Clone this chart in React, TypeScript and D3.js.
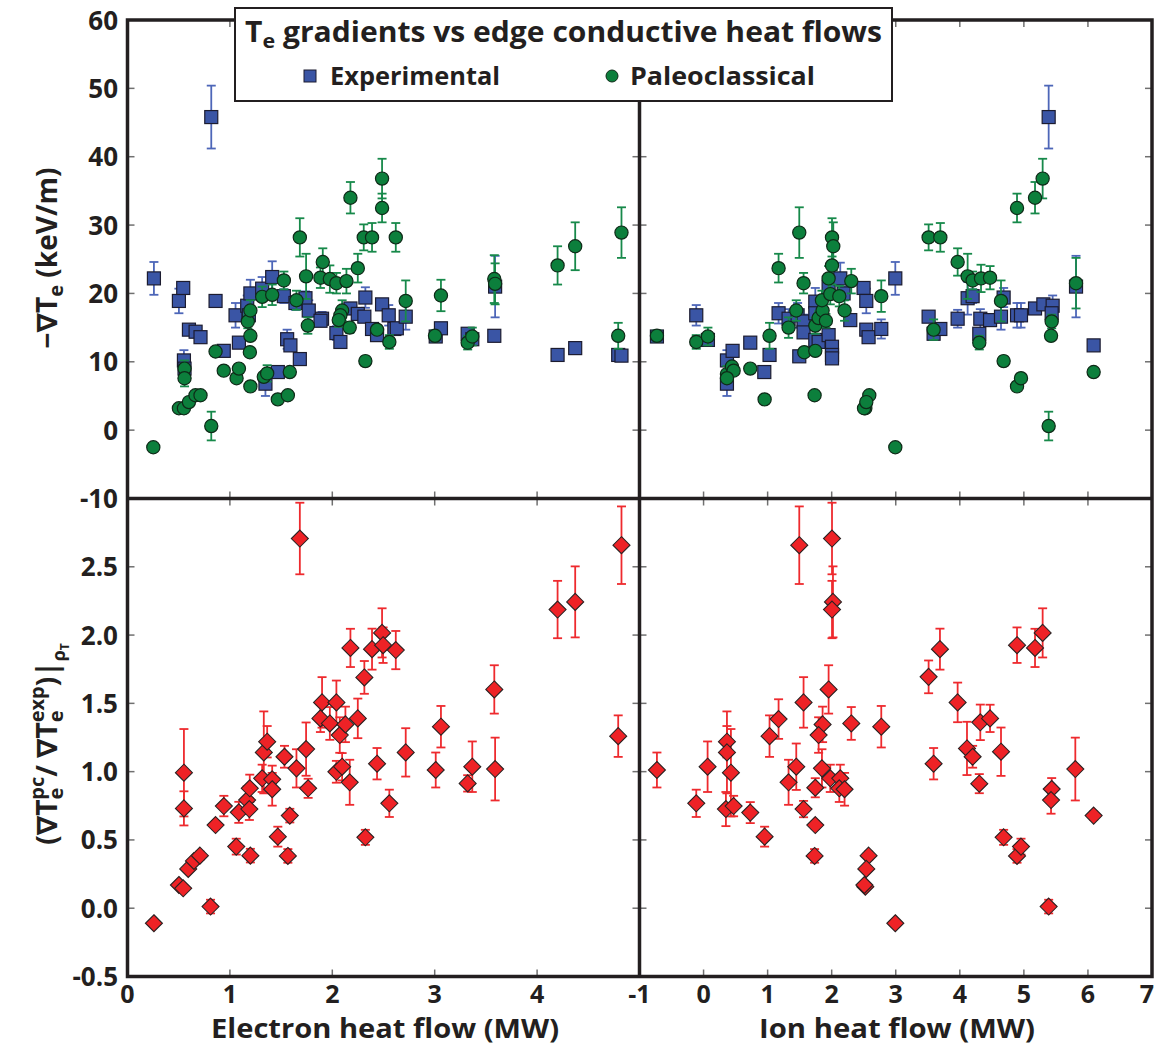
import React from 'react';
import * as d3 from 'd3';

type P = [number, number, number]; // [heat flow, value, error]

const xTicksElectron = [0, 1, 2, 3, 4];
const xTicksIon = [-1, 0, 1, 2, 3, 4, 5, 6, 7];
const yTicksGrad = [-10, 0, 10, 20, 30, 40, 50, 60];
const yTicksRatio = [-0.5, 0, 0.5, 1, 1.5, 2, 2.5];
const yTickRatioLabels = ['-0.5', '0.0', '0.5', '1.0', '1.5', '2.0', '2.5'];

const legendTitle = ' gradients vs edge conductive heat flows';
const seriesNames = ['Experimental', 'Paleoclassical'];

// Experimental gradients vs electron heat flow
const expElectron: P[] = [
  [0.258, 22.2, 2.4], [0.502, 18.9, 1.8], [0.544, 20.8, 0.8], [0.551, 10.2, 1.5], [0.557, 9.0, 2.0],
  [0.600, 14.7, 0.6], [0.665, 14.4, 0.5], [0.713, 13.6, 0.5], [0.818, 45.8, 4.6], [0.860, 18.9, 0.3],
  [0.940, 11.6, 0.4], [1.055, 16.8, 1.8], [1.088, 12.8, 0.7], [1.169, 18.2, 1.5], [1.185, 16.8, 1.2],
  [1.200, 20.0, 2.0], [1.315, 20.7, 1.7], [1.347, 6.8, 1.8], [1.413, 22.4, 2.3], [1.468, 8.5, 0.3],
  [1.527, 19.6, 1.0], [1.559, 13.3, 1.4], [1.591, 12.4, 0.5], [1.640, 18.6, 1.0], [1.683, 10.4, 0.3],
  [1.738, 19.3, 1.0], [1.770, 17.5, 1.5], [1.900, 16.3, 1.0], [1.885, 16.0, 0.8], [2.040, 14.2, 1.0],
  [2.079, 12.9, 0.5], [2.177, 17.8, 0.8], [2.249, 17.0, 0.5], [2.313, 16.6, 0.5], [2.323, 19.4, 1.5],
  [2.388, 14.8, 0.5], [2.437, 13.9, 0.5], [2.486, 18.4, 0.7], [2.551, 16.8, 1.5], [2.606, 14.8, 0.5],
  [2.630, 14.9, 0.5], [2.717, 16.6, 1.9], [3.010, 13.7, 0.6], [3.061, 14.9, 0.8], [3.322, 14.1, 0.5],
  [3.367, 13.3, 0.5], [3.582, 13.8, 0.7], [3.590, 21.0, 4.5], [4.200, 11.0, 0.3], [4.372, 12.0, 0.6],
  [4.792, 11.0, 0.3], [4.824, 10.9, 0.3],
];

// Paleoclassical gradients vs electron heat flow
const pcElectron: P[] = [
  [0.252, -2.5, 0], [0.502, 3.2, 0.3], [0.551, 3.2, 0.3], [0.600, 4.1, 0.3], [0.664, 5.1, 0.3],
  [0.713, 5.1, 0.3], [0.557, 9.0, 1.2], [0.557, 7.6, 1.2], [0.818, 0.6, 2.1], [0.860, 11.5, 0.3],
  [0.940, 8.7, 0.4], [1.065, 7.6, 0.4], [1.088, 9.0, 0.5], [1.200, 6.4, 0.3], [1.195, 11.4, 0.5],
  [1.200, 13.8, 0.5], [1.175, 15.9, 1.0], [1.200, 17.5, 1.5], [1.315, 19.5, 1.5], [1.413, 19.8, 1.5],
  [1.331, 7.8, 0.5], [1.364, 8.3, 1.2], [1.468, 4.5, 0.3], [1.566, 5.1, 0.3], [1.585, 8.5, 0.3],
  [1.527, 21.9, 1.3], [1.650, 19.0, 1.4], [1.683, 28.2, 2.8], [1.744, 22.5, 3.3], [1.761, 15.3, 1.2],
  [1.907, 24.6, 2.0], [1.884, 22.3, 1.5], [1.976, 22.1, 2.0], [2.040, 21.5, 1.5], [2.138, 21.8, 1.8],
  [2.096, 17.5, 1.5], [2.079, 16.8, 1.0], [2.063, 16.1, 1.0], [2.170, 15.0, 0.8], [2.177, 34.0, 2.3],
  [2.249, 23.7, 2.1], [2.307, 28.2, 1.9], [2.388, 28.2, 2.1], [2.486, 36.8, 2.9], [2.486, 32.5, 2.1],
  [2.437, 14.7, 0.5], [2.557, 12.9, 1.0], [2.323, 10.1, 0.7], [2.620, 28.2, 2.1], [2.717, 18.9, 3.0],
  [3.061, 19.7, 2.3], [3.003, 13.8, 0.8], [3.322, 12.8, 1.0], [3.367, 13.7, 1.3], [3.582, 22.1, 3.5],
  [3.590, 21.4, 3.0], [4.200, 24.1, 2.8], [4.372, 26.9, 3.5], [4.824, 28.9, 3.7], [4.792, 13.8, 1.9],
];

// Experimental gradients vs ion heat flow
const expIon: P[] = [
  [-0.728, 13.7, 0.8], [-0.114, 16.8, 1.5], [0.068, 13.2, 0.5], [0.365, 10.2, 1.5], [0.453, 11.6, 0.5],
  [0.365, 6.8, 1.8], [0.729, 12.8, 0.7], [0.948, 8.5, 0.3], [1.030, 11.0, 0.3], [1.171, 17.1, 1.5],
  [1.327, 16.3, 1.4], [1.468, 16.8, 1.8], [1.494, 10.8, 0.3], [1.561, 15.9, 1.0], [1.561, 14.3, 0.8],
  [1.744, 18.8, 2.0], [1.744, 17.1, 1.0], [1.744, 13.2, 0.8], [1.796, 12.9, 0.5], [1.952, 13.9, 0.7],
  [1.952, 21.0, 1.7], [2.005, 12.2, 0.5], [2.005, 11.0, 0.5], [2.005, 10.5, 0.5], [2.134, 22.2, 2.3],
  [2.186, 20.0, 1.0], [2.290, 16.1, 0.5], [2.498, 20.8, 0.5], [2.540, 18.9, 1.8], [2.540, 14.7, 0.5],
  [2.576, 13.6, 0.5], [2.774, 14.8, 1.4], [2.993, 22.2, 2.4], [3.513, 16.6, 0.4], [3.591, 14.1, 0.4],
  [3.696, 14.8, 0.4], [3.966, 16.3, 1.3], [4.122, 19.3, 2.4], [4.200, 19.6, 1.0], [4.304, 14.1, 0.5],
  [4.320, 16.3, 1.4], [4.472, 16.1, 0.5], [4.643, 16.6, 1.9], [4.684, 19.4, 1.4], [4.893, 16.8, 1.8],
  [4.955, 16.8, 1.8], [5.174, 17.8, 0.5], [5.304, 18.4, 0.7], [5.449, 18.2, 1.5], [5.434, 17.1, 0.5],
  [5.814, 21.0, 4.5], [6.089, 12.4, 0.3], [5.387, 45.8, 4.6],
];

// Paleoclassical gradients vs ion heat flow
const pcIon: P[] = [
  [-0.728, 13.8, 0.8], [-0.114, 12.9, 1.0], [0.068, 13.7, 1.3], [0.365, 8.2, 1.2], [0.443, 9.3, 0.5],
  [0.469, 8.7, 0.5], [0.365, 7.6, 0.5], [0.729, 9.0, 0.4], [0.953, 4.5, 0.3], [1.030, 13.8, 1.9],
  [1.171, 23.7, 2.1], [1.327, 15.0, 1.5], [1.447, 17.5, 1.5], [1.494, 28.9, 3.7], [1.561, 21.5, 1.5],
  [1.572, 11.4, 0.5], [1.744, 15.3, 1.2], [1.744, 11.6, 0.5], [1.733, 5.1, 0.3], [1.796, 16.4, 1.0],
  [1.858, 17.5, 1.5], [1.848, 19.0, 1.4], [1.910, 16.0, 1.0], [1.952, 22.2, 1.8], [1.978, 19.9, 1.5],
  [2.005, 24.1, 2.8], [2.005, 28.2, 2.8], [2.025, 26.9, 3.5], [2.119, 19.6, 1.5], [2.201, 17.5, 1.5],
  [2.306, 21.8, 1.8], [2.774, 19.6, 2.3], [2.525, 3.2, 0.3], [2.505, 3.2, 0.3], [2.587, 5.1, 0.3],
  [2.540, 4.1, 0.3], [2.993, -2.5, 0], [3.513, 28.2, 1.9], [3.696, 28.2, 2.1], [3.591, 14.7, 1.5],
  [3.966, 24.6, 2.0], [4.122, 22.5, 3.3], [4.200, 21.9, 1.3], [4.331, 22.2, 2.0], [4.472, 22.3, 1.7],
  [4.304, 12.8, 1.0], [4.643, 18.9, 3.0], [4.684, 10.1, 0.7], [4.893, 6.4, 0.3], [4.955, 7.6, 0.3],
  [4.893, 32.5, 2.1], [5.174, 34.0, 2.3], [5.293, 36.8, 2.9], [5.434, 15.9, 1.0], [5.424, 13.8, 0.5],
  [5.387, 0.6, 2.1], [5.814, 21.5, 3.7], [6.089, 8.5, 0.3],
];

// Ratio pc / exp vs electron heat flow
const ratioElectron: P[] = [
  [0.258, -0.11, 0], [0.502, 0.17, 0.02], [0.544, 0.146, 0.02], [0.593, 0.288, 0.02], [0.649, 0.346, 0.02],
  [0.707, 0.385, 0.03], [0.811, 0.012, 0.05], [0.860, 0.609, 0.03], [0.941, 0.748, 0.075], [0.551, 0.992, 0.32],
  [0.551, 0.731, 0.125], [1.062, 0.451, 0.058], [1.087, 0.702, 0.077], [1.200, 0.385, 0.05], [1.168, 0.792, 0.1],
  [1.194, 0.878, 0.1], [1.190, 0.726, 0.08], [1.315, 0.951, 0.1], [1.331, 1.141, 0.3], [1.364, 1.219, 0.115],
  [1.413, 0.944, 0.1], [1.413, 0.871, 0.12], [1.468, 0.524, 0.073], [1.566, 0.383, 0.05], [1.533, 1.109, 0.08],
  [1.585, 0.678, 0.05], [1.650, 1.024, 0.14], [1.683, 2.707, 0.262], [1.744, 1.165, 0.195], [1.764, 0.878, 0.07],
  [1.900, 1.507, 0.185], [1.884, 1.39, 0.1], [1.976, 1.353, 0.12], [2.040, 1.507, 0.16], [2.073, 1.268, 0.13],
  [2.128, 1.346, 0.13], [2.040, 0.999, 0.08], [2.096, 1.036, 0.1], [2.170, 0.922, 0.165], [2.249, 1.39, 0.145],
  [2.177, 1.906, 0.14], [2.313, 1.69, 0.12], [2.323, 0.519, 0.055], [2.388, 1.897, 0.15], [2.486, 2.016, 0.18],
  [2.496, 1.926, 0.13], [2.437, 1.058, 0.115], [2.557, 0.768, 0.1], [2.620, 1.89, 0.14], [2.717, 1.141, 0.177],
  [3.061, 1.329, 0.152], [3.010, 1.012, 0.128], [3.322, 0.914, 0.06], [3.367, 1.036, 0.185], [3.582, 1.602, 0.177],
  [3.590, 1.019, 0.23], [4.200, 2.187, 0.21], [4.372, 2.243, 0.26], [4.824, 2.658, 0.284], [4.792, 1.26, 0.152],
];

// Ratio pc / exp vs ion heat flow
const ratioIon: P[] = [
  [-0.728, 1.012, 0.128], [-0.114, 0.768, 0.1], [0.063, 1.036, 0.185], [0.365, 1.219, 0.115], [0.365, 1.141, 0.3],
  [0.427, 0.992, 0.32], [0.349, 0.726, 0.125], [0.469, 0.748, 0.075], [0.729, 0.7, 0.077], [0.953, 0.524, 0.073],
  [1.030, 1.26, 0.152], [1.171, 1.385, 0.145], [1.494, 2.658, 0.284], [1.447, 1.036, 0.17], [1.327, 0.922, 0.165],
  [1.561, 1.507, 0.185], [1.561, 0.726, 0.06], [1.744, 0.882, 0.07], [1.744, 0.609, 0.03], [1.733, 0.383, 0.05],
  [1.858, 1.346, 0.13], [1.796, 1.268, 0.13], [1.848, 1.024, 0.14], [1.978, 0.951, 0.1], [1.952, 1.602, 0.177],
  [2.005, 2.707, 0.262], [2.020, 2.243, 0.26], [2.005, 2.187, 0.21], [2.134, 0.951, 0.1], [2.119, 0.878, 0.1],
  [2.201, 0.871, 0.12], [2.306, 1.353, 0.12], [2.774, 1.329, 0.152], [2.525, 0.158, 0.02], [2.576, 0.385, 0.03],
  [2.540, 0.288, 0.02], [2.510, 0.17, 0.02], [2.993, -0.11, 0], [3.513, 1.694, 0.12], [3.690, 1.897, 0.15],
  [3.591, 1.058, 0.115], [3.966, 1.507, 0.145], [4.112, 1.17, 0.195], [4.200, 1.109, 0.08], [4.320, 1.361, 0.13],
  [4.472, 1.39, 0.1], [4.304, 0.912, 0.07], [4.643, 1.146, 0.177], [4.684, 0.519, 0.055], [4.893, 0.383, 0.05],
  [4.955, 0.451, 0.058], [4.893, 1.926, 0.13], [5.174, 1.906, 0.14], [5.293, 2.016, 0.18], [5.434, 0.873, 0.08],
  [5.424, 0.792, 0.1], [5.387, 0.012, 0.05], [5.803, 1.019, 0.23], [6.089, 0.678, 0.03],
];

const FONT = "'Open Sans', 'DejaVu Sans', sans-serif";
const BLUE = '#3a55a5';
const BLUE_ERR = '#4d66b8';
const GREEN = '#0c7f3c';
const GREEN_ERR = '#17894a';
const RED = '#ee2226';
const RED_ERR = '#ee2a2e';
const FRAME = '#231f20';

type Sc = d3.ScaleLinear<number, number>;

function ErrorBars({ data, x, y, color }: { data: P[]; x: Sc; y: Sc; color: string }) {
  return (
    <g stroke={color} strokeWidth={1.8} fill="none">
      {data.filter((d) => d[2] > 0).map((d, i) => {
        const cx = x(d[0]);
        const y1 = y(d[1] + d[2]);
        const y2 = y(d[1] - d[2]);
        return (
          <g key={i}>
            <line x1={cx} x2={cx} y1={y1} y2={y2} />
            <line x1={cx - 4.5} x2={cx + 4.5} y1={y1} y2={y1} />
            <line x1={cx - 4.5} x2={cx + 4.5} y1={y2} y2={y2} />
          </g>
        );
      })}
    </g>
  );
}

function Squares({ data, x, y }: { data: P[]; x: Sc; y: Sc }) {
  const s = 13;
  return (
    <g fill={BLUE} stroke="#1c1c30" strokeWidth={1.2}>
      {data.map((d, i) => (
        <rect key={i} x={x(d[0]) - s / 2} y={y(d[1]) - s / 2} width={s} height={s} />
      ))}
    </g>
  );
}

function Circles({ data, x, y }: { data: P[]; x: Sc; y: Sc }) {
  return (
    <g fill={GREEN} stroke="#0f2a18" strokeWidth={1.2}>
      {data.map((d, i) => (
        <circle key={i} cx={x(d[0])} cy={y(d[1])} r={6.6} />
      ))}
    </g>
  );
}

function Diamonds({ data, x, y }: { data: P[]; x: Sc; y: Sc }) {
  const h = 8.5;
  return (
    <g fill={RED} stroke="#2a2222" strokeWidth={1.1}>
      {data.map((d, i) => {
        const cx = x(d[0]);
        const cy = y(d[1]);
        return <path key={i} d={`M${cx},${cy - h}L${cx + h},${cy}L${cx},${cy + h}L${cx - h},${cy}Z`} />;
      })}
    </g>
  );
}

function PanelTicks({ x, y, xt, yt }: { x: Sc; y: Sc; xt: number[]; yt: number[] }) {
  const [x0, x1] = x.range();
  const [y0, y1] = y.range(); // y0 bottom, y1 top
  const L = 7;
  return (
    <g stroke="#707070" strokeWidth={1.5}>
      {xt.map((t) => (
        <g key={'x' + t}>
          <line x1={x(t)} x2={x(t)} y1={y0} y2={y0 - L} />
          <line x1={x(t)} x2={x(t)} y1={y1} y2={y1 + L} />
        </g>
      ))}
      {yt.map((t) => (
        <g key={'y' + t}>
          <line x1={x0} x2={x0 + L} y1={y(t)} y2={y(t)} />
          <line x1={x1} x2={x1 - L} y1={y(t)} y2={y(t)} />
        </g>
      ))}
    </g>
  );
}

export default function App() {
  const W = 1157;
  const H = 1047;
  const xL = d3.scaleLinear().domain([0, 5]).range([127.5, 639.5]);
  const xR = d3.scaleLinear().domain([-1, 7]).range([639.5, 1152]);
  const yT = d3.scaleLinear().domain([-10, 60]).range([498.5, 20]);
  const yB = d3.scaleLinear().domain([-0.5, 3]).range([976.5, 498.5]);

  const innerXL = xTicksElectron.filter((t) => t > 0);
  const innerXR = xTicksIon.filter((t) => t > -1 && t < 7);
  const innerYT = yTicksGrad.filter((t) => t > -10 && t < 60);
  const innerYB = yTicksRatio.filter((t) => t > -0.5);

  return (
    <svg width={W} height={H} style={{ position: 'absolute', left: 0, top: 0, background: '#fff' }} fontFamily={FONT}>
      <rect width={W} height={H} fill="#fff" />

      {/* ticks */}
      <PanelTicks x={xL} y={yT} xt={innerXL} yt={innerYT} />
      <PanelTicks x={xR} y={yT} xt={innerXR} yt={innerYT} />
      <PanelTicks x={xL} y={yB} xt={innerXL} yt={innerYB} />
      <PanelTicks x={xR} y={yB} xt={innerXR} yt={innerYB} />

      {/* top-left */}
      <ErrorBars data={expElectron} x={xL} y={yT} color={BLUE_ERR} />
      <Squares data={expElectron} x={xL} y={yT} />
      <ErrorBars data={pcElectron} x={xL} y={yT} color={GREEN_ERR} />
      <Circles data={pcElectron} x={xL} y={yT} />
      {/* top-right */}
      <ErrorBars data={expIon} x={xR} y={yT} color={BLUE_ERR} />
      <Squares data={expIon} x={xR} y={yT} />
      <ErrorBars data={pcIon} x={xR} y={yT} color={GREEN_ERR} />
      <Circles data={pcIon} x={xR} y={yT} />
      {/* bottom */}
      <ErrorBars data={ratioElectron} x={xL} y={yB} color={RED_ERR} />
      <Diamonds data={ratioElectron} x={xL} y={yB} />
      <ErrorBars data={ratioIon} x={xR} y={yB} color={RED_ERR} />
      <Diamonds data={ratioIon} x={xR} y={yB} />

      {/* frame */}
      <g stroke={FRAME} strokeWidth={3.5} fill="none">
        <rect x={127.5} y={20} width={1152 - 127.5} height={976.5 - 20} />
        <line x1={639.5} x2={639.5} y1={20} y2={976.5} />
        <line x1={127.5} x2={1152} y1={498.5} y2={498.5} />
      </g>

      {/* y tick labels */}
      <g fontSize={26} fontWeight="bold" fill="#231f20" textAnchor="end">
        {yTicksGrad.map((t) => (
          <text key={'g' + t} x={118} y={yT(t) + 9.5}>{String(t)}</text>
        ))}
        {yTicksRatio.map((t, i) => (
          <text key={'r' + t} x={118} y={yB(t) + 9.5}>{yTickRatioLabels[i]}</text>
        ))}
      </g>

      {/* x tick labels */}
      <g fontSize={25} fontWeight="bold" fill="#231f20" textAnchor="middle">
        {xTicksElectron.map((t) => (
          <text key={'e' + t} x={xL(t)} y={1003}>{String(t)}</text>
        ))}
        {xTicksIon.map((t) => (
          <text key={'i' + t} x={Math.min(xR(t), 1147)} y={1003}>{String(t)}</text>
        ))}
      </g>

      {/* x titles */}
      <g fontSize={26} fontWeight="bold" fill="#231f20" textAnchor="middle">
        <text x={385} y={1038} textLength={348} lengthAdjust="spacingAndGlyphs">Electron heat flow (MW)</text>
        <text x={897} y={1038} textLength={276} lengthAdjust="spacingAndGlyphs">Ion heat flow (MW)</text>
      </g>

      {/* y titles */}
      <g fontWeight="bold" fill="#231f20">
        <text transform="translate(57,258) rotate(-90)" textAnchor="middle" fontSize={28}>
          −∇T<tspan fontSize={20} dy={6}>e</tspan>
          <tspan dy={-6}> (keV/m)</tspan>
        </text>
        <text transform="translate(57,744) rotate(-90)" textAnchor="middle" fontSize={28}>
          (∇T<tspan fontSize={20} dy={6}>e</tspan>
          <tspan fontSize={20} dy={-19} dx={-12}>pc</tspan>
          <tspan dy={13}>/ ∇T</tspan>
          <tspan fontSize={20} dy={6}>e</tspan>
          <tspan fontSize={20} dy={-19} dx={-12}>exp</tspan>
          <tspan dy={13}>)|</tspan>
          <tspan fontSize={18} dy={8}>ρ</tspan>
          <tspan fontSize={12} dy={4}>T</tspan>
        </text>
      </g>

      {/* legend */}
      <g>
        <rect x={235} y={8} width={657} height={93} fill="#fff" stroke={FRAME} strokeWidth={2} />
        <text x={563.5} y={42} textAnchor="middle" fontSize={28} fontWeight="bold" fill="#231f20"
          textLength={637} lengthAdjust="spacingAndGlyphs">
          T<tspan fontSize={20} dy={6}>e</tspan>
          <tspan dy={-6}>{legendTitle}</tspan>
        </text>
        <rect x={304} y={70} width={12} height={12} fill={BLUE} stroke="#1c1c30" strokeWidth={1} />
        <text x={330} y={85} fontSize={25} fontWeight="bold" fill="#231f20" textLength={170} lengthAdjust="spacingAndGlyphs">
          {seriesNames[0]}
        </text>
        <circle cx={612} cy={76} r={6} fill={GREEN} stroke="#0f2a18" strokeWidth={1} />
        <text x={630} y={85} fontSize={25} fontWeight="bold" fill="#231f20" textLength={185} lengthAdjust="spacingAndGlyphs">
          {seriesNames[1]}
        </text>
      </g>
    </svg>
  );
}
